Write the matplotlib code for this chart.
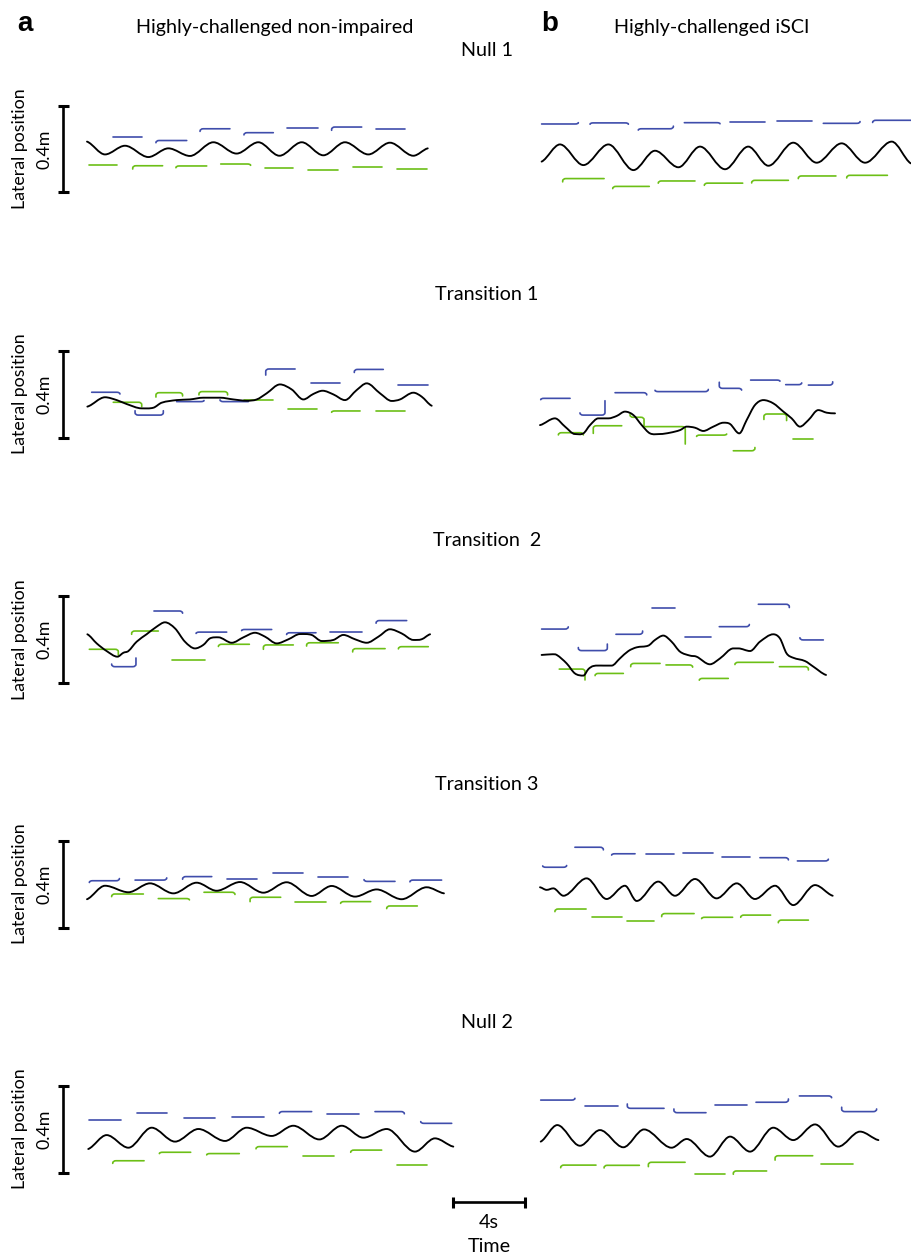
import numpy as np
import matplotlib
matplotlib.use("Agg")
import matplotlib.pyplot as plt
from matplotlib.path import Path
from matplotlib.patches import PathPatch

# ---------------------------------------------------------------- data
# Centre-of-mass lateral position traces: time (s), lateral position (m)
NI_NULL1_T = [0.0, 1.0, 2.11, 3.41, 4.52, 5.72, 7.02, 8.31, 9.52, 10.69, 11.93, 13.13, 14.33, 15.63, 16.83, 18.13, 18.93]
NI_NULL1_Y = [0.034, -0.025, 0.015, -0.037, 0.003, -0.032, 0.031, -0.021, 0.031, -0.031, 0.031, -0.029, 0.031, -0.025, 0.029, -0.031, 0.003]
SCI_NULL1_T = [0.09, 1.11, 2.41, 3.80, 5.19, 6.39, 7.69, 8.89, 10.28, 11.57, 12.69, 14.07, 15.37, 16.76, 18.06, 19.54, 20.6]
SCI_NULL1_Y = [-0.058, 0.021, -0.074, 0.021, -0.097, -0.008, -0.084, 0.011, -0.093, 0.011, -0.077, 0.029, -0.063, 0.026, -0.063, 0.034, -0.066]

NI_TR1_T = [0.02, 1.0, 1.65, 2.2, 3.04, 3.69, 4.15, 4.98, 5.72, 6.46, 7.39, 8.13, 8.87, 9.43, 9.98, 10.72, 11.37, 12.02, 12.57, 13.09, 13.69, 14.33, 14.98, 15.54, 16.28, 16.93, 17.39, 18.13, 18.59, 19.15]
NI_TR1_Y = [-0.058, -0.015, -0.028, -0.046, -0.066, -0.063, -0.040, -0.028, -0.025, -0.017, -0.017, -0.025, -0.031, -0.025, 0.003, 0.044, 0.021, -0.025, 0.0, 0.015, -0.002, -0.028, 0.018, 0.049, 0.003, -0.032, -0.025, 0.006, -0.012, -0.054]
SCI_TR1_T = [0.0, 0.83, 1.39, 1.94, 2.41, 2.78, 3.24, 3.80, 4.26, 4.72, 5.19, 5.65, 6.11, 6.67, 7.22, 7.78, 8.15, 8.61, 9.07, 9.63, 10.19, 10.56, 11.07, 11.48, 11.94, 12.41, 12.96, 13.52, 13.98, 14.44, 14.91, 15.46, 15.93, 16.39]
SCI_TR1_Y = [-0.143, -0.112, -0.150, -0.184, -0.181, -0.143, -0.112, -0.112, -0.101, -0.081, -0.097, -0.143, -0.181, -0.184, -0.178, -0.166, -0.150, -0.155, -0.170, -0.150, -0.132, -0.138, -0.181, -0.120, -0.051, -0.028, -0.043, -0.081, -0.112, -0.150, -0.120, -0.074, -0.086, -0.089]

NI_TR2_T = [0.02, 0.54, 1.09, 1.69, 2.02, 2.30, 2.76, 3.31, 3.87, 4.33, 4.89, 5.44, 6.0, 6.46, 6.83, 7.30, 8.04, 8.69, 9.33, 9.89, 10.54, 11.19, 11.83, 12.48, 13.04, 13.69, 14.24, 14.89, 15.54, 16.19, 16.83, 17.48, 18.13, 18.59, 19.06]
NI_TR2_Y = [0.024, -0.018, -0.053, -0.079, -0.061, -0.053, -0.010, 0.024, 0.059, 0.079, 0.051, -0.010, -0.041, -0.025, 0.005, 0.010, -0.015, 0.010, 0.031, 0.013, -0.018, 0.001, 0.025, 0.021, -0.007, -0.002, 0.021, 0.001, -0.015, 0.013, 0.047, 0.028, -0.002, 0.001, 0.024]
SCI_TR2_T = [0.09, 0.65, 0.93, 1.48, 1.94, 2.41, 2.69, 2.96, 3.52, 3.98, 4.44, 4.91, 5.37, 6.02, 6.39, 6.85, 7.31, 7.78, 8.33, 8.70, 9.44, 10.0, 10.74, 11.02, 11.67, 12.22, 12.96, 13.33, 13.70, 14.07, 14.72, 15.19, 15.89]
SCI_TR2_Y = [-0.071, -0.068, -0.071, -0.110, -0.156, -0.166, -0.136, -0.122, -0.120, -0.120, -0.087, -0.053, -0.036, -0.028, -0.002, 0.018, -0.010, -0.056, -0.074, -0.079, -0.114, -0.087, -0.041, -0.041, -0.053, -0.010, 0.024, 0.005, -0.064, -0.084, -0.099, -0.125, -0.163]

NI_TR3_T = [0.0, 1.0, 2.3, 3.5, 4.8, 6.09, 7.2, 8.5, 9.8, 11.09, 12.48, 13.59, 14.89, 16.09, 17.48, 18.87, 19.83]
NI_TR3_Y = [-0.070, -0.008, -0.038, 0.003, -0.043, 0.006, -0.031, 0.009, -0.040, 0.008, -0.055, -0.009, -0.058, -0.025, -0.070, -0.015, -0.043]
SCI_TR3_T = [0.0, 0.37, 0.74, 1.30, 2.59, 3.70, 4.72, 5.37, 6.57, 7.50, 8.61, 9.81, 10.93, 11.94, 13.06, 14.07, 15.28, 16.26]
SCI_TR3_Y = [-0.015, -0.027, -0.020, -0.054, 0.026, -0.069, -0.008, -0.078, 0.011, -0.054, 0.023, -0.066, 0.003, -0.069, -0.008, -0.097, -0.005, -0.054]

NI_NULL2_T = [0.07, 1.09, 2.3, 3.59, 4.89, 6.19, 7.67, 8.87, 10.26, 11.46, 12.91, 14.15, 15.35, 16.65, 18.22, 19.33, 20.35]
NI_NULL2_Y = [-0.092, -0.028, -0.086, 0.006, -0.058, 0.000, -0.055, 0.006, -0.032, 0.015, -0.048, 0.015, -0.040, 0.000, -0.104, -0.043, -0.081]
SCI_NULL2_T = [0.04, 0.96, 2.22, 3.33, 4.63, 5.78, 7.31, 8.15, 9.44, 10.56, 11.67, 12.96, 14.07, 15.28, 16.57, 17.78, 18.8]
SCI_NULL2_Y = [-0.058, 0.018, -0.077, -0.005, -0.084, -0.002, -0.086, -0.046, -0.127, -0.035, -0.104, 0.006, -0.051, 0.021, -0.081, -0.012, -0.051]

# Foot placements: (start s, end s, lateral position m, start hook m, end hook m)
NI_NULL1_LEFT = [(1.46, 3.04, 0.055, 0, 0), (3.83, 5.54, 0.039, -0.010, 0), (6.28, 7.94, 0.093, -0.012, 0),
                 (8.72, 10.35, 0.075, -0.010, 0), (11.13, 12.85, 0.097, 0, 0), (13.59, 15.26, 0.101, -0.015, 0),
                 (16.06, 17.67, 0.090, 0, 0)]
NI_NULL1_RIGHT = [(0.13, 1.69, -0.075, 0, 0), (2.54, 4.20, -0.077, -0.015, 0), (4.94, 6.65, -0.078, -0.008, 0),
                  (7.43, 9.09, -0.069, 0, -0.006), (9.89, 11.46, -0.087, 0, 0), (12.30, 13.96, -0.098, 0, 0),
                  (14.76, 16.37, -0.081, 0, 0), (17.20, 18.87, -0.092, 0, 0)]
SCI_NULL1_LEFT = [(0.09, 2.13, 0.115, 0, 0.006), (2.78, 4.91, 0.120, -0.006, -0.006), (5.46, 7.41, 0.093, -0.006, 0.012),
                  (8.02, 10.0, 0.121, 0, -0.005), (10.56, 12.5, 0.124, 0, 0), (13.15, 15.09, 0.127, 0, 0),
                  (15.74, 17.78, 0.118, 0, 0.008), (18.48, 21.0, 0.132, -0.010, 0)]
SCI_NULL1_RIGHT = [(1.26, 3.56, -0.136, -0.015, 0), (4.04, 6.07, -0.172, -0.010, 0), (6.57, 8.61, -0.147, -0.010, 0),
                   (9.13, 11.26, -0.157, -0.010, 0), (11.76, 13.8, -0.144, -0.012, 0), (14.35, 16.44, -0.124, -0.012, 0),
                   (17.04, 19.3, -0.121, -0.012, 0)]

NI_TR1_LEFT = [(0.26, 1.83, 0.008, 0, -0.008), (2.67, 4.24, -0.097, 0.020, 0.020), (4.98, 6.5, -0.035, 0, 0.005),
               (7.39, 8.96, -0.035, 0.008, 0), (9.93, 11.56, 0.115, -0.028, 0), (12.43, 14.06, 0.049, 0, 0),
               (14.85, 16.46, 0.113, -0.014, 0), (17.30, 18.93, 0.043, 0, 0)]
NI_TR1_RIGHT = [(1.46, 3.04, -0.038, 0, -0.020), (3.83, 5.31, 0.006, -0.020, -0.015), (6.22, 7.81, 0.011, -0.015, -0.015),
                (8.74, 10.35, -0.029, 0, 0), (11.19, 12.80, -0.069, 0, 0), (13.59, 15.17, -0.078, -0.006, 0),
                (16.04, 17.67, -0.077, 0, 0)]
SCI_TR1_LEFT = [(0.04, 1.67, -0.020, -0.006, 0), (2.22, 3.61, -0.097, 0.010, 0.066), (4.17, 5.93, 0.006, 0, -0.010),
                (6.39, 9.35, 0.011, 0.006, 0.010), (9.96, 11.2, 0.026, 0.028, -0.008), (11.7, 13.33, 0.064, 0, -0.005),
                (13.65, 14.54, 0.043, 0, 0.008), (14.91, 16.26, 0.041, 0, 0.015)]
SCI_TR1_RIGHT = [(1.02, 2.41, -0.178, -0.010, -0.010), (2.96, 4.54, -0.146, -0.035, 0), (5.0, 5.78, -0.107, 0.012, -0.040),
                 (5.83, 8.07, -0.150, 0, -0.080), (8.7, 10.37, -0.189, -0.006, 0.005), (10.74, 11.94, -0.261, 0, 0.015),
                 (12.44, 13.7, -0.092, -0.025, -0.030), (14.04, 15.19, -0.207, 0, 0)]

NI_TR2_LEFT = [(1.37, 2.72, -0.125, 0.012, 0.040), (3.72, 5.31, 0.131, 0, -0.010), (6.06, 7.76, 0.034, -0.006, 0),
               (8.59, 10.26, 0.046, -0.005, 0), (11.09, 12.72, 0.031, -0.008, 0), (13.5, 15.26, 0.034, 0, 0),
               (16.06, 17.76, 0.087, -0.012, 0)]
NI_TR2_RIGHT = [(0.13, 1.74, -0.045, 0, -0.026), (2.48, 3.96, 0.039, -0.015, 0), (4.7, 6.56, -0.094, 0, 0),
                (7.3, 9.02, -0.022, -0.010, 0), (9.8, 11.46, -0.025, -0.020, 0), (12.2, 13.96, -0.015, -0.015, 0),
                (14.76, 16.56, -0.042, -0.015, 0), (17.3, 18.96, -0.033, -0.010, 0)]
SCI_TR2_LEFT = [(0.09, 1.57, 0.048, 0, 0.010), (2.13, 3.74, -0.051, 0.014, 0.030), (4.22, 5.7, 0.024, 0, 0.015),
                (6.2, 7.5, 0.143, 0, 0), (8.06, 9.48, 0.013, 0, 0), (9.96, 11.63, 0.059, 0, 0.010),
                (12.13, 13.85, 0.162, 0, -0.015), (14.44, 15.74, -0.002, 0.010, 0)]
SCI_TR2_RIGHT = [(1.07, 2.5, -0.136, 0, -0.050), (3.06, 4.63, -0.156, -0.010, 0), (5.04, 6.67, -0.110, -0.015, 0),
                 (7.0, 8.48, -0.117, 0, -0.010), (8.85, 10.46, -0.179, -0.008, 0), (10.83, 12.96, -0.105, -0.010, 0),
                 (13.3, 14.91, -0.125, 0, -0.015)]

NI_TR3_LEFT = [(0.13, 1.80, 0.015, -0.008, 0.010), (2.67, 4.43, 0.018, 0, 0.010), (5.31, 6.93, 0.034, -0.012, 0),
               (7.76, 9.43, 0.023, 0, 0), (10.31, 12.02, 0.052, 0, 0), (12.85, 14.52, 0.034, 0, 0),
               (15.39, 17.11, 0.012, 0.008, 0), (17.94, 19.7, 0.018, -0.008, 0)]
NI_TR3_RIGHT = [(1.37, 3.13, -0.046, -0.012, 0), (3.96, 5.69, -0.067, 0, -0.006), (6.5, 8.22, -0.038, 0, -0.010),
                (9.06, 10.76, -0.061, -0.020, 0), (11.56, 13.28, -0.084, 0, 0), (14.09, 15.76, -0.081, -0.008, 0),
                (16.65, 18.35, -0.101, -0.012, 0)]
SCI_TR3_LEFT = [(0.15, 1.48, 0.077, 0.006, 0.008), (1.94, 3.52, 0.169, 0, -0.012), (3.98, 5.28, 0.139, -0.006, 0),
                (5.89, 7.44, 0.136, 0, 0), (7.93, 9.59, 0.142, 0, 0), (10.09, 11.67, 0.126, 0, 0),
                (12.22, 13.8, 0.121, 0, -0.010), (14.3, 16.02, 0.106, 0, 0.008)]
SCI_TR3_RIGHT = [(0.83, 2.56, -0.115, -0.012, 0), (2.87, 4.54, -0.150, 0, 0), (4.85, 6.33, -0.169, 0, 0),
                 (6.76, 8.56, -0.136, -0.014, 0), (8.98, 10.7, -0.153, -0.006, 0), (11.15, 12.81, -0.143, -0.010, 0),
                 (13.24, 14.91, -0.166, -0.012, 0)]

NI_NULL2_LEFT = [(0.13, 1.87, 0.041, 0, 0), (2.76, 4.46, 0.074, 0, 0), (5.39, 7.11, 0.051, 0, 0),
                 (8.04, 9.83, 0.054, 0, 0), (10.69, 12.48, 0.080, -0.008, 0), (13.31, 15.13, 0.069, 0, 0),
                 (16.0, 17.63, 0.080, 0, -0.010), (18.54, 20.26, 0.026, 0.008, 0)]
NI_NULL2_RIGHT = [(1.43, 3.17, -0.146, -0.012, 0), (4.02, 5.76, -0.107, -0.006, 0), (6.65, 8.46, -0.113, -0.006, 0),
                  (9.39, 11.13, -0.081, -0.010, 0), (11.98, 13.72, -0.123, 0, 0), (14.65, 16.37, -0.097, -0.010, 0),
                  (17.2, 18.87, -0.167, 0, 0)]
SCI_NULL2_LEFT = [(0.04, 1.94, 0.133, 0, 0.008), (2.5, 4.35, 0.107, 0, 0), (4.85, 6.89, 0.095, 0.020, 0),
                  (7.44, 9.22, 0.075, 0.017, 0), (9.72, 11.48, 0.110, 0, 0), (12.0, 13.8, 0.123, 0, 0.015),
                  (14.41, 16.2, 0.152, 0, -0.008), (16.76, 18.7, 0.080, 0.020, 0.012)]
SCI_NULL2_RIGHT = [(1.15, 3.11, -0.166, -0.012, 0), (3.56, 5.52, -0.167, -0.012, 0), (6.02, 8.06, -0.153, -0.020, 0),
                   (8.61, 10.28, -0.208, 0, 0), (10.74, 12.59, -0.193, -0.015, 0), (13.06, 15.15, -0.123, -0.020, 0),
                   (15.59, 17.41, -0.161, 0, 0)]

PHASES = ["Null 1", "Transition 1", "Transition  2", "Transition 3", "Null 2"]
GROUPS = ["Highly-challenged non-impaired", "Highly-challenged iSCI"]
PANEL_LETTERS = ["a", "b"]
SCALE_POS_M = 0.4
SCALE_TIME_S = 4

# ---------------------------------------------------------------- layout
W, H, DPI = 911, 1256, 100
PX_PER_S = 18.0
PX_PER_M = 217.5
COL_X0 = [87, 540]
ROW_YC = [149, 394, 639.5, 884, 1129]
TITLE_Y = [50, 295, 540, 785, 1022]
BLUE = "#3f4dab"
GREEN = "#6cbf16"
FONT = "Lato"
FS = 14.2
FS_Y = 12.8

plt.rcParams["font.family"] = [FONT, "DejaVu Sans"]
fig = plt.figure(figsize=(W / DPI, H / DPI), dpi=DPI)
fig.patch.set_facecolor("white")


def ftext(x, y, s, **kw):
    fig.text(x / W, 1 - y / H, s, **kw)


def add_panel(x0, yc, tmin=-0.6, tmax=21.3, ymin=-0.30, ymax=0.22):
    left = x0 + tmin * PX_PER_S
    right = x0 + tmax * PX_PER_S
    top = yc - ymax * PX_PER_M
    bottom = yc - ymin * PX_PER_M
    ax = fig.add_axes([left / W, 1 - bottom / H, (right - left) / W, (bottom - top) / H])
    ax.set_xlim(tmin, tmax)
    ax.set_ylim(ymin, ymax)
    ax.axis("off")
    return ax


def smooth_path(t, y):
    t = np.asarray(t, float)
    y = np.asarray(y, float)
    n = len(t)
    m = np.zeros(n)
    for i in range(n):
        if i == 0:
            m[i] = 0.5 * (y[1] - y[0]) / (t[1] - t[0])
        elif i == n - 1:
            m[i] = 0.5 * (y[-1] - y[-2]) / (t[-1] - t[-2])
        else:
            if (y[i] - y[i - 1]) * (y[i + 1] - y[i]) <= 0:
                m[i] = 0.0
            else:
                m[i] = (y[i + 1] - y[i - 1]) / (t[i + 1] - t[i - 1])
    verts = [(t[0], y[0])]
    codes = [Path.MOVETO]
    for i in range(n - 1):
        d = (t[i + 1] - t[i]) / 3.0
        verts += [(t[i] + d, y[i] + m[i] * d), (t[i + 1] - d, y[i + 1] - m[i + 1] * d), (t[i + 1], y[i + 1])]
        codes += [Path.CURVE4] * 3
    return Path(verts, codes)


def step_path(t0, t1, y, h0, h1, rt=0.18, ry=0.011):
    verts, codes = [], []
    if abs(h0) > 1e-9:
        s = np.sign(h0)
        r = min(ry, abs(h0))
        verts.append((t0, y + h0)); codes.append(Path.MOVETO)
        if abs(h0) > r:
            verts.append((t0, y + s * r)); codes.append(Path.LINETO)
        verts += [(t0, y), (t0 + rt, y)]; codes += [Path.CURVE3, Path.CURVE3]
    else:
        verts.append((t0, y)); codes.append(Path.MOVETO)
    if abs(h1) > 1e-9:
        s = np.sign(h1)
        r = min(ry, abs(h1))
        verts.append((t1 - rt, y)); codes.append(Path.LINETO)
        verts += [(t1, y), (t1, y + s * r)]; codes += [Path.CURVE3, Path.CURVE3]
        if abs(h1) > r:
            verts.append((t1, y + h1)); codes.append(Path.LINETO)
    else:
        verts.append((t1, y)); codes.append(Path.LINETO)
    return Path(verts, codes)


TRACES = [
    [(NI_NULL1_T, NI_NULL1_Y), (SCI_NULL1_T, SCI_NULL1_Y)],
    [(NI_TR1_T, NI_TR1_Y), (SCI_TR1_T, SCI_TR1_Y)],
    [(NI_TR2_T, NI_TR2_Y), (SCI_TR2_T, SCI_TR2_Y)],
    [(NI_TR3_T, NI_TR3_Y), (SCI_TR3_T, SCI_TR3_Y)],
    [(NI_NULL2_T, NI_NULL2_Y), (SCI_NULL2_T, SCI_NULL2_Y)],
]
STEPS = [
    [(NI_NULL1_LEFT, NI_NULL1_RIGHT), (SCI_NULL1_LEFT, SCI_NULL1_RIGHT)],
    [(NI_TR1_LEFT, NI_TR1_RIGHT), (SCI_TR1_LEFT, SCI_TR1_RIGHT)],
    [(NI_TR2_LEFT, NI_TR2_RIGHT), (SCI_TR2_LEFT, SCI_TR2_RIGHT)],
    [(NI_TR3_LEFT, NI_TR3_RIGHT), (SCI_TR3_LEFT, SCI_TR3_RIGHT)],
    [(NI_NULL2_LEFT, NI_NULL2_RIGHT), (SCI_NULL2_LEFT, SCI_NULL2_RIGHT)],
]

last_left_ax = None
for r, yc in enumerate(ROW_YC):
    for c, x0 in enumerate(COL_X0):
        ax = add_panel(x0, yc)
        left_steps, right_steps = STEPS[r][c]
        for (t0, t1, y, h0, h1) in left_steps:
            ax.add_patch(PathPatch(step_path(t0, t1, y, h0, h1), fill=False, ec=BLUE, lw=1.2,
                                   capstyle="round", joinstyle="round"))
        for (t0, t1, y, h0, h1) in right_steps:
            ax.add_patch(PathPatch(step_path(t0, t1, y, h0, h1), fill=False, ec=GREEN, lw=1.2,
                                   capstyle="round", joinstyle="round"))
        tt, yy = TRACES[r][c]
        ax.add_patch(PathPatch(smooth_path(tt, yy), fill=False, ec="black", lw=1.35,
                               capstyle="round", joinstyle="round"))
        if c == 0:
            # vertical 0.4 m scale bar
            tb = (63 - x0) / PX_PER_S
            cap = 5.5 / PX_PER_S
            ax.plot([tb, tb], [-SCALE_POS_M / 2, SCALE_POS_M / 2], color="black", lw=1.9, clip_on=False,
                    solid_capstyle="butt")
            for yv in (-SCALE_POS_M / 2, SCALE_POS_M / 2):
                ax.plot([tb - cap, tb + cap], [yv, yv], color="black", lw=2.2, clip_on=False,
                        solid_capstyle="butt")
            ftext(20, yc, "Lateral position", rotation=90, ha="center", va="center", fontsize=FS_Y)
            ftext(45, yc, f"{SCALE_POS_M}m", rotation=90, ha="center", va="center", fontsize=FS_Y)
            last_left_ax = ax
    ftext(487, TITLE_Y[r], PHASES[r], ha="center", va="center", fontsize=FS)

# horizontal time scale bar under the last row
ax = last_left_ax
tb0 = (453 - COL_X0[0]) / PX_PER_S
yb = (ROW_YC[-1] - 1202) / PX_PER_M
capm = 5.5 / PX_PER_M
ax.plot([tb0, tb0 + SCALE_TIME_S], [yb, yb], color="black", lw=1.9, clip_on=False, solid_capstyle="butt")
for tv in (tb0, tb0 + SCALE_TIME_S):
    ax.plot([tv, tv], [yb - capm, yb + capm], color="black", lw=2.2, clip_on=False, solid_capstyle="butt")
ftext(489, 1223, f"{SCALE_TIME_S}s", ha="center", va="center", fontsize=FS)
ftext(489, 1247, "Time", ha="center", va="center", fontsize=FS)

# column headings
ftext(275, 27, GROUPS[0], ha="center", va="center", fontsize=FS)
ftext(712, 27, GROUPS[1], ha="center", va="center", fontsize=FS)
ftext(25, 24, PANEL_LETTERS[0], ha="center", va="center", fontsize=20, fontweight="bold",
      family=["Liberation Sans", "DejaVu Sans"])
ftext(550, 24, PANEL_LETTERS[1], ha="center", va="center", fontsize=20, fontweight="bold",
      family=["Liberation Sans", "DejaVu Sans"])

fig.savefig("out.png", dpi=DPI, facecolor="white")
